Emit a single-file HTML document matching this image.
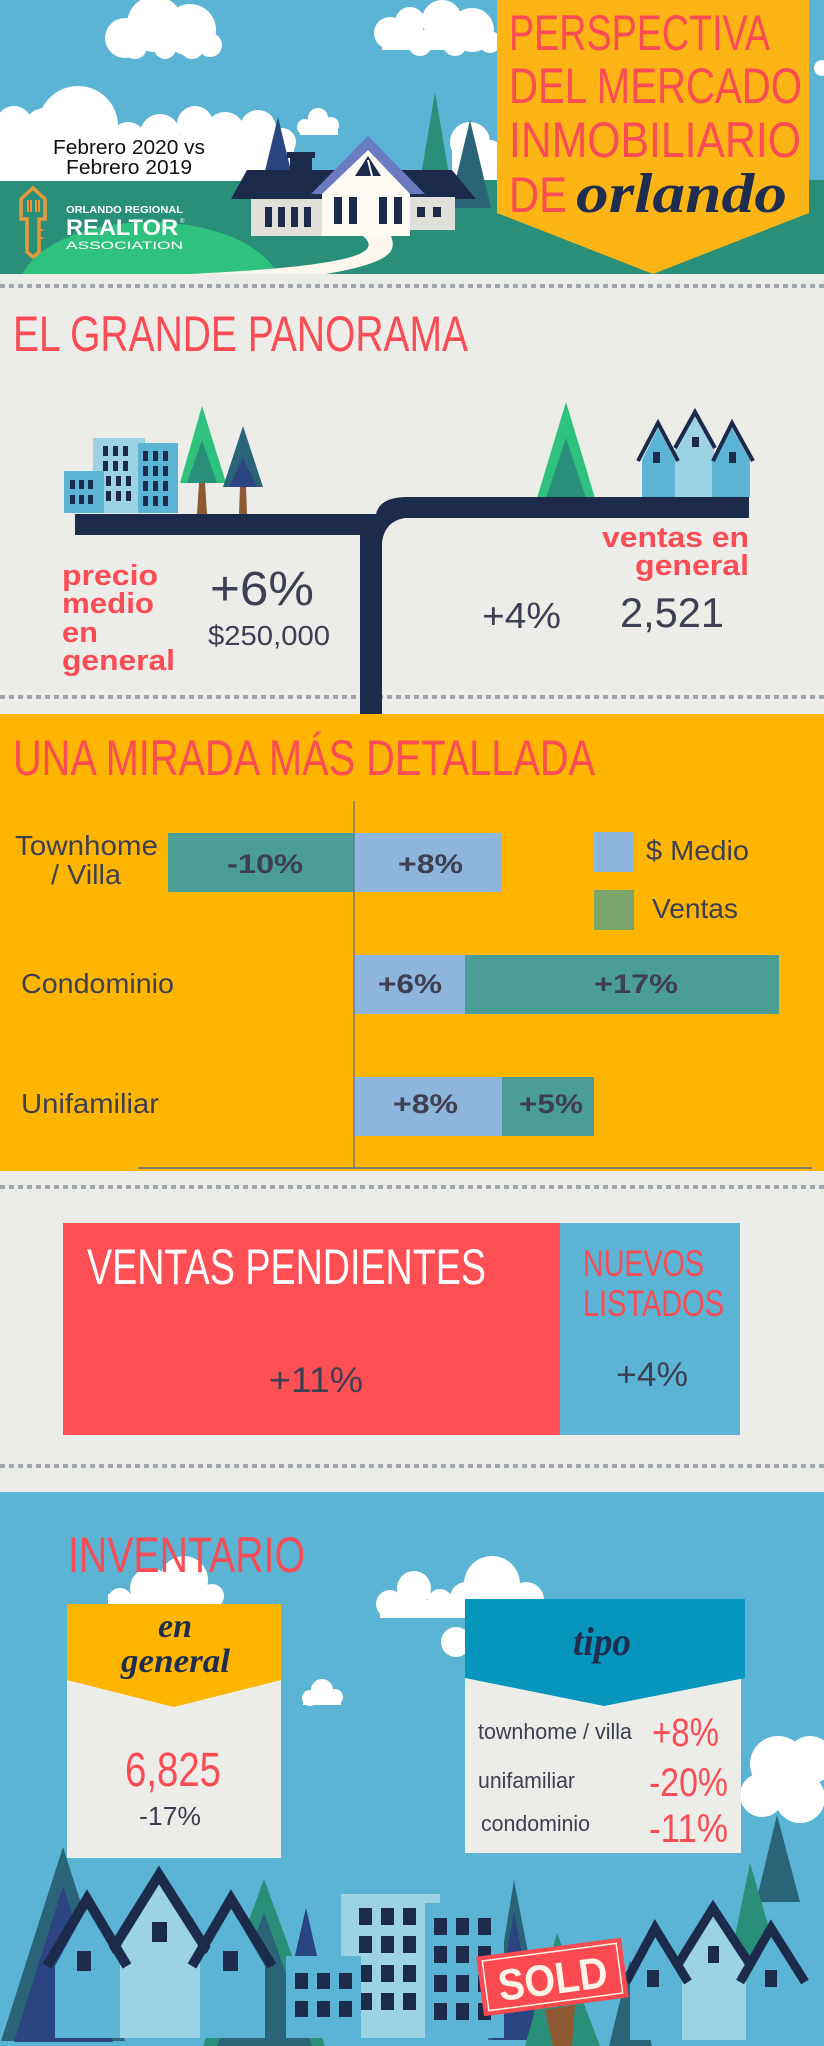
<!DOCTYPE html>
<html><head><meta charset="utf-8"><style>html,body{margin:0;padding:0;background:#ecece8}svg{display:block}</style></head>
<body>
<svg xmlns="http://www.w3.org/2000/svg" width="824" height="2046" viewBox="0 0 824 2046" font-family="'Liberation Sans', sans-serif">
<!-- ===== HEADER ===== -->
<rect x="0" y="0" width="824" height="180" fill="#5bb4d4"/>
<rect x="0" y="180" width="824" height="94" fill="#2a8f78"/>
<g fill="#ffffff">
  <!-- cloud1 -->
  <circle cx="125" cy="38" r="20"/><circle cx="155" cy="24" r="28"/><circle cx="190" cy="30" r="26"/><circle cx="210" cy="45" r="12"/>
  <circle cx="135" cy="47" r="12"/><circle cx="165" cy="48" r="11"/><circle cx="192" cy="47" r="12"/>
  <!-- cloud2 -->
  <circle cx="390" cy="33" r="16"/><circle cx="410" cy="22" r="15"/><circle cx="442" cy="20" r="20"/><circle cx="472" cy="30" r="22"/><circle cx="490" cy="42" r="11"/>
  <circle cx="420" cy="44" r="12"/><circle cx="455" cy="44" r="12"/><rect x="382" y="30" width="110" height="20"/>
  <!-- big cloud -->
  <rect x="0" y="135" width="294" height="46"/>
  <circle cx="14" cy="124" r="18"/><circle cx="45" cy="130" r="22"/><circle cx="78" cy="126" r="40"/><circle cx="128" cy="140" r="18"/>
  <circle cx="160" cy="134" r="20"/><circle cx="195" cy="124" r="18"/><circle cx="225" cy="132" r="20"/><circle cx="258" cy="128" r="18"/><circle cx="282" cy="142" r="14"/>
  <!-- small cloud -->
  <circle cx="305" cy="127" r="8"/><circle cx="318" cy="118" r="10"/><circle cx="331" cy="125" r="8"/><rect x="300" y="124" width="38" height="11"/>
  <!-- right cloud -->
  <circle cx="470" cy="142" r="20"/><circle cx="490" cy="152" r="12"/><rect x="452" y="142" width="45" height="38"/>
  <circle cx="822" cy="68" r="8"/>
</g>
<!-- hill -->
<ellipse cx="150" cy="292" rx="132" ry="70" fill="#2ec27e"/>
<rect x="0" y="274" width="824" height="12" fill="#ecece8"/>
<!-- trees -->
<polygon points="278,117 258,200 298,200" fill="#2b4580"/>
<polygon points="435,92 416,205 454,205" fill="#2a8f78"/>
<polygon points="470,120 449,208 491,208" fill="#2b6479"/>
<!-- house -->
<rect x="287" y="152" width="28" height="6" fill="#1c2a4c"/>
<rect x="290" y="155" width="22" height="20" fill="#1c2a4c"/>
<polygon points="247,170 452,170 476,199 231,199" fill="#1c2a4c"/>
<rect x="251" y="199" width="72" height="37" fill="#e0dfd9"/>
<rect x="407" y="197" width="48" height="33" fill="#e0dfd9"/>
<polygon points="368,136 311,194 425,194" fill="#6a7bbf"/>
<polygon points="368,150 322,194 322,236 410,236 410,194" fill="#fdfaf3"/>
<polygon points="368,156 355,176 381,176" fill="#1c2a4c"/>
<line x1="368" y1="160" x2="372" y2="176" stroke="#fdfaf3" stroke-width="2"/>
<g fill="#1c2a4c">
  <rect x="265" y="207" width="7" height="20"/><rect x="278" y="207" width="7" height="20"/><rect x="291" y="207" width="7" height="20"/><rect x="304" y="207" width="7" height="20"/>
  <rect x="334" y="197" width="8" height="27"/><rect x="349" y="197" width="8" height="27"/>
  <rect x="379" y="197" width="8" height="27"/><rect x="394" y="197" width="8" height="27"/>
  <rect x="417" y="207" width="8" height="10"/><rect x="433" y="207" width="8" height="10"/>
</g>
<!-- path -->
<path d="M363,236 C382,252 360,266 189,274 L326,274 C395,262 396,250 391,236 Z" fill="#fbf7ef"/>
<!-- logo -->
<g fill="none" stroke="#e8973a" stroke-width="3.5" stroke-linejoin="miter">
  <path d="M21,199 L33,188 L45,199 L45,219 L39,219 L39,252 L33,257 L27,252 L27,219 L21,219 Z"/>
</g>
<g stroke="#e8973a" stroke-width="2">
  <line x1="28" y1="200" x2="28" y2="212"/><line x1="31" y1="200" x2="31" y2="212"/>
  <line x1="36" y1="200" x2="36" y2="212"/><line x1="39" y1="200" x2="39" y2="212"/>
  <line x1="39" y1="230" x2="43" y2="230"/><line x1="39" y1="238" x2="43" y2="238"/>
</g>
<text x="66" y="213" font-size="10" font-weight="bold" fill="#fff" textLength="117" lengthAdjust="spacingAndGlyphs">ORLANDO REGIONAL</text>
<text x="66" y="235" font-size="22" font-weight="bold" fill="#fff" textLength="112" lengthAdjust="spacingAndGlyphs">REALTOR</text>
<text x="180" y="223" font-size="6" fill="#fff">®</text>
<text x="66" y="249" font-size="11" fill="#fff" textLength="117" lengthAdjust="spacingAndGlyphs">ASSOCIATION</text>
<text x="53" y="154" font-size="20" fill="#111" textLength="152" lengthAdjust="spacingAndGlyphs">Febrero 2020 vs</text>
<text x="66" y="174" font-size="20" fill="#111" textLength="126" lengthAdjust="spacingAndGlyphs">Febrero 2019</text>
<!-- banner -->
<polygon points="497,0 809,0 809,213 653,274 497,213" fill="#fdb515"/>
<g fill="#f94c55" font-size="50">
  <text x="509" y="50" textLength="261" lengthAdjust="spacingAndGlyphs">PERSPECTIVA</text>
  <text x="509" y="103" textLength="293" lengthAdjust="spacingAndGlyphs">DEL MERCADO</text>
  <text x="509" y="157" textLength="292" lengthAdjust="spacingAndGlyphs">INMOBILIARIO</text>
  <text x="509" y="212" textLength="58" lengthAdjust="spacingAndGlyphs">DE</text>
</g>
<text x="576" y="212" font-family="'Liberation Serif', serif" font-style="italic" font-weight="bold" font-size="56" fill="#1f2d4e" textLength="211" lengthAdjust="spacingAndGlyphs">orlando</text>

<!-- ===== SECTION 2 ===== -->
<rect x="0" y="274" width="824" height="440" fill="#ecece8"/>
<line x1="0" y1="286" x2="824" y2="286" stroke="#a1a7af" stroke-width="4" stroke-dasharray="5,4"/>
<text x="13" y="351" font-size="50" fill="#f94c55" textLength="455" lengthAdjust="spacingAndGlyphs">EL GRANDE PANORAMA</text>
<line x1="0" y1="697" x2="824" y2="697" stroke="#a1a7af" stroke-width="4" stroke-dasharray="5,4"/>
<!-- buildings left -->
<rect x="93" y="438" width="52" height="75" fill="#9dd1e4"/>
<rect x="138" y="443" width="40" height="70" fill="#5bb4d4"/>
<rect x="64" y="471" width="40" height="42" fill="#5bb4d4"/>
<g fill="#1c2a4c">
  <rect x="103" y="446" width="5" height="10"/><rect x="113" y="446" width="5" height="10"/><rect x="123" y="446" width="5" height="10"/>
  <rect x="103" y="461" width="5" height="10"/><rect x="113" y="461" width="5" height="10"/><rect x="123" y="461" width="5" height="10"/>
  <rect x="106" y="476" width="5" height="10"/><rect x="116" y="476" width="5" height="10"/><rect x="126" y="476" width="5" height="10"/>
  <rect x="106" y="491" width="5" height="10"/><rect x="116" y="491" width="5" height="10"/><rect x="126" y="491" width="5" height="10"/>
  <rect x="143" y="451" width="5" height="10"/><rect x="153" y="451" width="5" height="10"/><rect x="163" y="451" width="5" height="10"/>
  <rect x="143" y="466" width="5" height="10"/><rect x="153" y="466" width="5" height="10"/><rect x="163" y="466" width="5" height="10"/>
  <rect x="143" y="481" width="5" height="10"/><rect x="153" y="481" width="5" height="10"/><rect x="163" y="481" width="5" height="10"/>
  <rect x="143" y="496" width="5" height="10"/><rect x="153" y="496" width="5" height="10"/><rect x="163" y="496" width="5" height="10"/>
  <rect x="70" y="480" width="5" height="9"/><rect x="79" y="480" width="5" height="9"/><rect x="88" y="480" width="5" height="9"/>
  <rect x="70" y="495" width="5" height="9"/><rect x="79" y="495" width="5" height="9"/><rect x="88" y="495" width="5" height="9"/>
</g>
<!-- trees -->
<polygon points="202,406 180,483 226,483" fill="#2ec27e"/>
<polygon points="202,440 187,483 217,483" fill="#2a8f78"/>
<polygon points="199,483 205,483 207,514 197,514" fill="#8d5a34"/>
<polygon points="243,426 223,487 263,487" fill="#2b6479"/>
<polygon points="243,458 229,487 257,487" fill="#2b4580"/>
<polygon points="240,487 246,487 247,514 239,514" fill="#8d5a34"/>
<polygon points="566,402 537,498 595,498" fill="#2ec27e"/>
<polygon points="566,438 546,498 586,498" fill="#2a8f78"/>
<!-- houses right -->
<polygon points="675,497 675,445 695,414 714,445 714,497" fill="#9dd1e4"/>
<polygon points="642,497 642,460 658,428 675,460 675,497" fill="#5bb4d4"/>
<polygon points="712,497 712,460 732,428 750,460 750,497" fill="#5bb4d4"/>
<g fill="none" stroke="#1c2a4c" stroke-width="4">
  <polyline points="675,448 695,412 715,448"/>
  <polyline points="638,461 658,423 678,461"/>
  <polyline points="713,461 732,423 753,461"/>
</g>
<g fill="#1c2a4c">
  <rect x="653" y="452" width="7" height="11"/><rect x="692" y="437" width="7" height="10"/><rect x="729" y="452" width="7" height="11"/>
</g>
<!-- road -->
<g fill="#1c2a4c">
  <rect x="75" y="514" width="301" height="21"/>
  <path d="M360,535 L360,514 L376,514 Q380,497 407,497 L749,497 L749,518 L405,518 Q385,521 382,542 L382,714 L360,714 Z"/>
</g>
<g fill="#f94c55" font-weight="bold" font-size="29">
  <text x="62" y="585" textLength="96" lengthAdjust="spacingAndGlyphs">precio</text>
  <text x="62" y="613" textLength="92" lengthAdjust="spacingAndGlyphs">medio</text>
  <text x="62" y="642" textLength="36" lengthAdjust="spacingAndGlyphs">en</text>
  <text x="62" y="670" textLength="113" lengthAdjust="spacingAndGlyphs">general</text>
  <text x="602" y="547" textLength="147" lengthAdjust="spacingAndGlyphs">ventas en</text>
  <text x="635" y="575" textLength="114" lengthAdjust="spacingAndGlyphs">general</text>
</g>
<g fill="#3d3f52">
  <text x="210" y="605" font-size="48" textLength="104" lengthAdjust="spacingAndGlyphs">+6%</text>
  <text x="208" y="645" font-size="28" textLength="122" lengthAdjust="spacingAndGlyphs">$250,000</text>
  <text x="482" y="628" font-size="36" textLength="79" lengthAdjust="spacingAndGlyphs">+4%</text>
  <text x="620" y="627" font-size="42" textLength="104" lengthAdjust="spacingAndGlyphs">2,521</text>
</g>

<!-- ===== SECTION 3 ===== -->
<rect x="0" y="714" width="824" height="457" fill="#fdb500"/>
<text x="13" y="775" font-size="50" fill="#f94c55" textLength="582" lengthAdjust="spacingAndGlyphs">UNA MIRADA MÁS DETALLADA</text>
<rect x="168" y="833" width="186" height="59" fill="#4a9e96"/>
<rect x="354" y="833" width="148" height="59" fill="#8eb6dc"/>
<rect x="354" y="955" width="111" height="59" fill="#8eb6dc"/>
<rect x="465" y="955" width="314" height="59" fill="#4a9e96"/>
<rect x="354" y="1077" width="148" height="59" fill="#8eb6dc"/>
<rect x="502" y="1077" width="92" height="59" fill="#4a9e96"/>
<line x1="354" y1="801" x2="354" y2="1168" stroke="#5d6c8c" stroke-width="1.2"/>
<line x1="138" y1="1168" x2="812" y2="1168" stroke="#5d6c8c" stroke-width="1.5"/>
<rect x="594" y="832" width="40" height="40" fill="#8eb6dc"/>
<rect x="594" y="890" width="40" height="40" fill="#7aa46a"/>
<g fill="#3d3f52" font-size="28">
  <text x="15" y="855" textLength="143" lengthAdjust="spacingAndGlyphs">Townhome</text>
  <text x="51" y="884" textLength="70" lengthAdjust="spacingAndGlyphs">/ Villa</text>
  <text x="21" y="993" textLength="153" lengthAdjust="spacingAndGlyphs">Condominio</text>
  <text x="21" y="1113" textLength="138" lengthAdjust="spacingAndGlyphs">Unifamiliar</text>
  <text x="646" y="860" textLength="103" lengthAdjust="spacingAndGlyphs">$ Medio</text>
  <text x="652" y="918" textLength="86" lengthAdjust="spacingAndGlyphs">Ventas</text>
</g>
<g fill="#3d3f52" font-size="27" font-weight="bold">
  <text x="227" y="873" textLength="76" lengthAdjust="spacingAndGlyphs">-10%</text>
  <text x="398" y="873" textLength="65" lengthAdjust="spacingAndGlyphs">+8%</text>
  <text x="378" y="993" textLength="64" lengthAdjust="spacingAndGlyphs">+6%</text>
  <text x="594" y="993" textLength="84" lengthAdjust="spacingAndGlyphs">+17%</text>
  <text x="393" y="1113" textLength="65" lengthAdjust="spacingAndGlyphs">+8%</text>
  <text x="519" y="1113" textLength="64" lengthAdjust="spacingAndGlyphs">+5%</text>
</g>

<!-- ===== SECTION 4 ===== -->
<rect x="0" y="1171" width="824" height="321" fill="#ecece8"/>
<line x1="0" y1="1187" x2="824" y2="1187" stroke="#a1a7af" stroke-width="4" stroke-dasharray="5,4"/>
<line x1="0" y1="1466" x2="824" y2="1466" stroke="#a1a7af" stroke-width="4" stroke-dasharray="5,4"/>
<rect x="63" y="1223" width="497" height="212" fill="#fe4f55"/>
<rect x="560" y="1223" width="180" height="212" fill="#5bb4d4"/>
<text x="87" y="1284" font-size="50" fill="#ffffff" textLength="399" lengthAdjust="spacingAndGlyphs">VENTAS PENDIENTES</text>
<text x="269" y="1392" font-size="35" fill="#3d3f52" textLength="94" lengthAdjust="spacingAndGlyphs">+11%</text>
<text x="583" y="1276" font-size="37" fill="#f94c55" textLength="121" lengthAdjust="spacingAndGlyphs">NUEVOS</text>
<text x="583" y="1316" font-size="37" fill="#f94c55" textLength="141" lengthAdjust="spacingAndGlyphs">LISTADOS</text>
<text x="616" y="1386" font-size="34" fill="#3d3f52" textLength="72" lengthAdjust="spacingAndGlyphs">+4%</text>

<!-- ===== SECTION 5 ===== -->
<rect x="0" y="1492" width="824" height="554" fill="#5bb4d4"/>
<g fill="#ffffff">
  <!-- cloud behind title -->
  <circle cx="120" cy="1600" r="12"/><circle cx="150" cy="1588" r="20"/><circle cx="184" cy="1580" r="24"/><circle cx="212" cy="1596" r="12"/><rect x="108" y="1594" width="112" height="12"/>
  <!-- cloud A -->
  <circle cx="390" cy="1604" r="14"/><circle cx="414" cy="1588" r="17"/><circle cx="440" cy="1602" r="13"/><circle cx="466" cy="1598" r="16"/><circle cx="492" cy="1584" r="28"/><circle cx="526" cy="1600" r="18"/>
  <rect x="380" y="1600" width="166" height="18"/>
  <circle cx="456" cy="1642" r="15"/>
  <!-- small cloud -->
  <circle cx="310" cy="1698" r="8"/><circle cx="322" cy="1690" r="11"/><circle cx="335" cy="1697" r="8"/><rect x="303" y="1697" width="38" height="8"/>
  <!-- right cloud -->
  <circle cx="778" cy="1764" r="28"/><circle cx="810" cy="1760" r="24"/><circle cx="762" cy="1795" r="22"/><circle cx="800" cy="1798" r="25"/>
</g>
<text x="68" y="1572" font-size="50" fill="#f94c55" textLength="237" lengthAdjust="spacingAndGlyphs">INVENTARIO</text>
<!-- left card -->
<rect x="67" y="1670" width="214" height="188" fill="#ecece8"/>
<polygon points="67,1604 281,1604 281,1680 174,1707 67,1680" fill="#fdb500"/>
<g fill="#1f2d4e" font-family="'Liberation Serif', serif" font-style="italic" font-weight="bold" font-size="34">
  <text x="158" y="1637" textLength="34" lengthAdjust="spacingAndGlyphs">en</text>
  <text x="121" y="1672" textLength="109" lengthAdjust="spacingAndGlyphs">general</text>
</g>
<text x="125" y="1786" font-size="48" fill="#f94c55" textLength="96" lengthAdjust="spacingAndGlyphs">6,825</text>
<text x="139" y="1825" font-size="26" fill="#3d3f52" textLength="62" lengthAdjust="spacingAndGlyphs">-17%</text>
<!-- right card -->
<rect x="465" y="1670" width="276" height="183" fill="#ecece8"/>
<polygon points="465,1599 745,1599 745,1678 604,1706 465,1678" fill="#0595bd"/>
<text x="573" y="1655" font-family="'Liberation Serif', serif" font-style="italic" font-weight="bold" font-size="40" fill="#1f2d4e" textLength="58" lengthAdjust="spacingAndGlyphs">tipo</text>
<g fill="#3d3f52" font-size="22">
  <text x="478" y="1739" textLength="154" lengthAdjust="spacingAndGlyphs">townhome / villa</text>
  <text x="478" y="1788" textLength="97" lengthAdjust="spacingAndGlyphs">unifamiliar</text>
  <text x="481" y="1831" textLength="109" lengthAdjust="spacingAndGlyphs">condominio</text>
</g>
<g fill="#f94c55" font-size="40">
  <text x="652" y="1746" textLength="67" lengthAdjust="spacingAndGlyphs">+8%</text>
  <text x="649" y="1796" textLength="79" lengthAdjust="spacingAndGlyphs">-20%</text>
  <text x="649" y="1842" textLength="79" lengthAdjust="spacingAndGlyphs">-11%</text>
</g>

<!-- bottom scene -->
<polygon points="63,1847 1,2041 125,2041" fill="#2b6479"/>
<polygon points="63,1886 14,2042 113,2042" fill="#2b4580"/>
<polygon points="264,1879 203,2046 325,2046" fill="#2a8f78"/>
<polygon points="264,1912 217,2046 312,2046" fill="#2b6479"/>
<polygon points="306,1908 294,1960 318,1960" fill="#2b4580"/>
<!-- house2 (back) -->
<polygon points="120,2038 120,1948 159,1884 200,1948 200,2038" fill="#9dd1e4"/>
<polyline points="111,1952 159,1875 208,1952" fill="none" stroke="#1c2a4c" stroke-width="10"/>
<rect x="152" y="1922" width="15" height="20" fill="#1c2a4c"/>
<!-- house1 -->
<polygon points="55,2038 55,1966 87,1908 120,1966 120,2038" fill="#5bb4d4"/>
<polyline points="47,1966 87,1899 127,1966" fill="none" stroke="#1c2a4c" stroke-width="10"/>
<rect x="77" y="1951" width="14" height="20" fill="#1c2a4c"/>
<!-- house3 -->
<polygon points="200,2038 200,1966 231,1908 265,1966 265,2038" fill="#5bb4d4"/>
<polyline points="192,1966 231,1899 272,1966" fill="none" stroke="#1c2a4c" stroke-width="10"/>
<rect x="223" y="1951" width="15" height="20" fill="#1c2a4c"/>
<!-- buildings -->
<rect x="341" y="1894" width="99" height="144" fill="#9dd1e4"/>
<g fill="#1c2a4c">
  <rect x="359" y="1908" width="13" height="17"/><rect x="381" y="1908" width="13" height="17"/><rect x="403" y="1908" width="13" height="17"/>
  <rect x="359" y="1936" width="13" height="17"/><rect x="381" y="1936" width="13" height="17"/><rect x="403" y="1936" width="13" height="17"/>
  <rect x="359" y="1965" width="13" height="17"/><rect x="381" y="1965" width="13" height="17"/><rect x="403" y="1965" width="13" height="17"/>
  <rect x="359" y="1993" width="13" height="17"/><rect x="381" y="1993" width="13" height="17"/><rect x="403" y="1993" width="13" height="17"/>
</g>
<polygon points="514,1880 488,2040 545,2040" fill="#2b6479"/>
<polygon points="514,1912 492,2040 538,2040" fill="#2b4580"/>
<rect x="425" y="1903" width="79" height="135" fill="#5bb4d4"/>
<g fill="#1c2a4c">
  <rect x="434" y="1918" width="13" height="17"/><rect x="456" y="1918" width="13" height="17"/><rect x="478" y="1918" width="13" height="17"/>
  <rect x="434" y="1946" width="13" height="17"/><rect x="456" y="1946" width="13" height="17"/><rect x="478" y="1946" width="13" height="17"/>
  <rect x="434" y="1975" width="13" height="17"/><rect x="456" y="1975" width="13" height="17"/><rect x="478" y="1975" width="13" height="17"/>
  <rect x="434" y="2003" width="13" height="17"/><rect x="456" y="2003" width="13" height="17"/><rect x="478" y="2003" width="13" height="17"/>
</g>
<rect x="286" y="1956" width="75" height="82" fill="#5bb4d4"/>
<g fill="#1c2a4c">
  <rect x="295" y="1973" width="13" height="16"/><rect x="317" y="1973" width="13" height="16"/><rect x="339" y="1973" width="13" height="16"/>
  <rect x="295" y="2001" width="13" height="16"/><rect x="317" y="2001" width="13" height="16"/><rect x="339" y="2001" width="13" height="16"/>
</g>
<polygon points="557,1933 525,2046 600,2046" fill="#2a8f78"/>
<polygon points="630,1960 609,2046 652,2046" fill="#2b6479"/>
<!-- right trees -->
<polygon points="777,1815 756,1902 800,1902" fill="#2b6479"/>
<polygon points="750,1863 722,2000 790,2000" fill="#2a8f78"/>
<!-- right houses -->
<polygon points="682,2040 682,1962 713,1915 746,1962 746,2040" fill="#9dd1e4"/>
<polyline points="677,1966 713,1908 751,1966" fill="none" stroke="#1c2a4c" stroke-width="9"/>
<rect x="708" y="1946" width="11" height="17" fill="#1c2a4c"/>
<polygon points="630,2040 630,1982 655,1935 682,1982 682,2040" fill="#5bb4d4"/>
<polyline points="626,1982 655,1928 688,1982" fill="none" stroke="#1c2a4c" stroke-width="9"/>
<rect x="647" y="1970" width="12" height="17" fill="#1c2a4c"/>
<polygon points="746,2040 746,1982 771,1935 799,1982 799,2040" fill="#5bb4d4"/>
<polyline points="740,1982 771,1928 805,1982" fill="none" stroke="#1c2a4c" stroke-width="9"/>
<rect x="765" y="1970" width="12" height="17" fill="#1c2a4c"/>
<!-- sold sign -->
<polygon points="545,2010 575,2005 572,2046 553,2046" fill="#8d5a34"/>
<g transform="rotate(-7.5 552.5 1977)">
  <rect x="479.5" y="1947" width="146" height="60" fill="#fc4a52"/>
  <rect x="485" y="1952" width="135" height="50" fill="none" stroke="#fdf3e6" stroke-width="1.5"/>
  <text x="552.5" y="1994" text-anchor="middle" font-size="44" font-weight="bold" fill="#fdf3e6" textLength="110" lengthAdjust="spacingAndGlyphs">SOLD</text>
</g>
</svg>
</body></html>
